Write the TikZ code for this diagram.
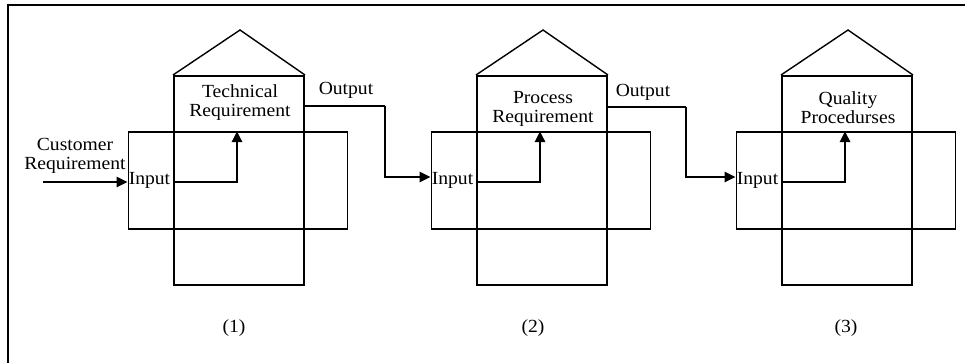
\documentclass[tikz,border=0pt]{standalone}
\usepackage{fontspec}
\setmainfont[FakeStretch=1.06]{Liberation Serif}
\usetikzlibrary{arrows.meta,calc}
\tikzset{
  vbox/.style={draw,line width=2pt,minimum width=130pt,minimum height=209pt,inner sep=0pt},
  hbox/.style={draw,line width=1.8pt,minimum width=219pt,minimum height=97pt,inner sep=0pt},
  roof/.style={draw,line width=1.4pt,line join=miter},
  lbl/.style={font=\fontsize{18.5}{19}\selectfont,inner sep=0pt,align=center},
  flow/.style={line width=2.8pt,-{Triangle[length=11pt,width=10pt]}},
}
\begin{document}
\begin{tikzpicture}[x=1pt,y=-1pt]
\useasboundingbox (0,0) rectangle (965,362);
\draw[line width=2.8pt] (8,363) -- (8,5) -- (966,5);

\foreach \i/\d/\ty/\nx/\txt in {1/0/103/234/{Technical\\Requirement},2/303/109/533/{Process\\Requirement},3/608/108/846/{Quality\\Procedurses}}{
  \node[hbox] (h\i) at (238+\d,180.5) {};
  \node[vbox] (v\i) at (239+\d,180.5) {};
  \coordinate (apex\i) at (240+\d,30);
  \draw[roof] (v\i.north west) -- (apex\i) -- (v\i.north east);
  \node[lbl] (t\i) at (240+\d,\ty) {\txt};
  \node[lbl,anchor=west] (in\i) at ($(h\i.west)+(1,0)$) {Input};
  \coordinate (up\i) at (237+\d,182);
  \draw[flow] (v\i.west |- up\i) -- (up\i) -- (up\i |- h\i.north);
  \node[lbl] (n\i) at (\nx,328) {(\i)};
}

\node[lbl] (cust) at (75,156) {Customer\\Requirement};
\coordinate (cstart) at (43,182);
\draw[flow] (cstart) -- (h1.west |- cstart);

\node[lbl] (o1) at (346,90) {Output};
\coordinate (b1) at (385,106);
\draw[flow,-] (v1.east |- b1) -- (b1);
\draw[flow] (b1) -- (385,177) -- (h2.west |- 0,177);

\node[lbl] (o2) at (643,92) {Output};
\coordinate (b2) at (686,107);
\draw[flow,-] (v2.east |- b2) -- (b2);
\draw[flow] (b2) -- (686,177) -- (h3.west |- 0,177);
\end{tikzpicture}
\end{document}
